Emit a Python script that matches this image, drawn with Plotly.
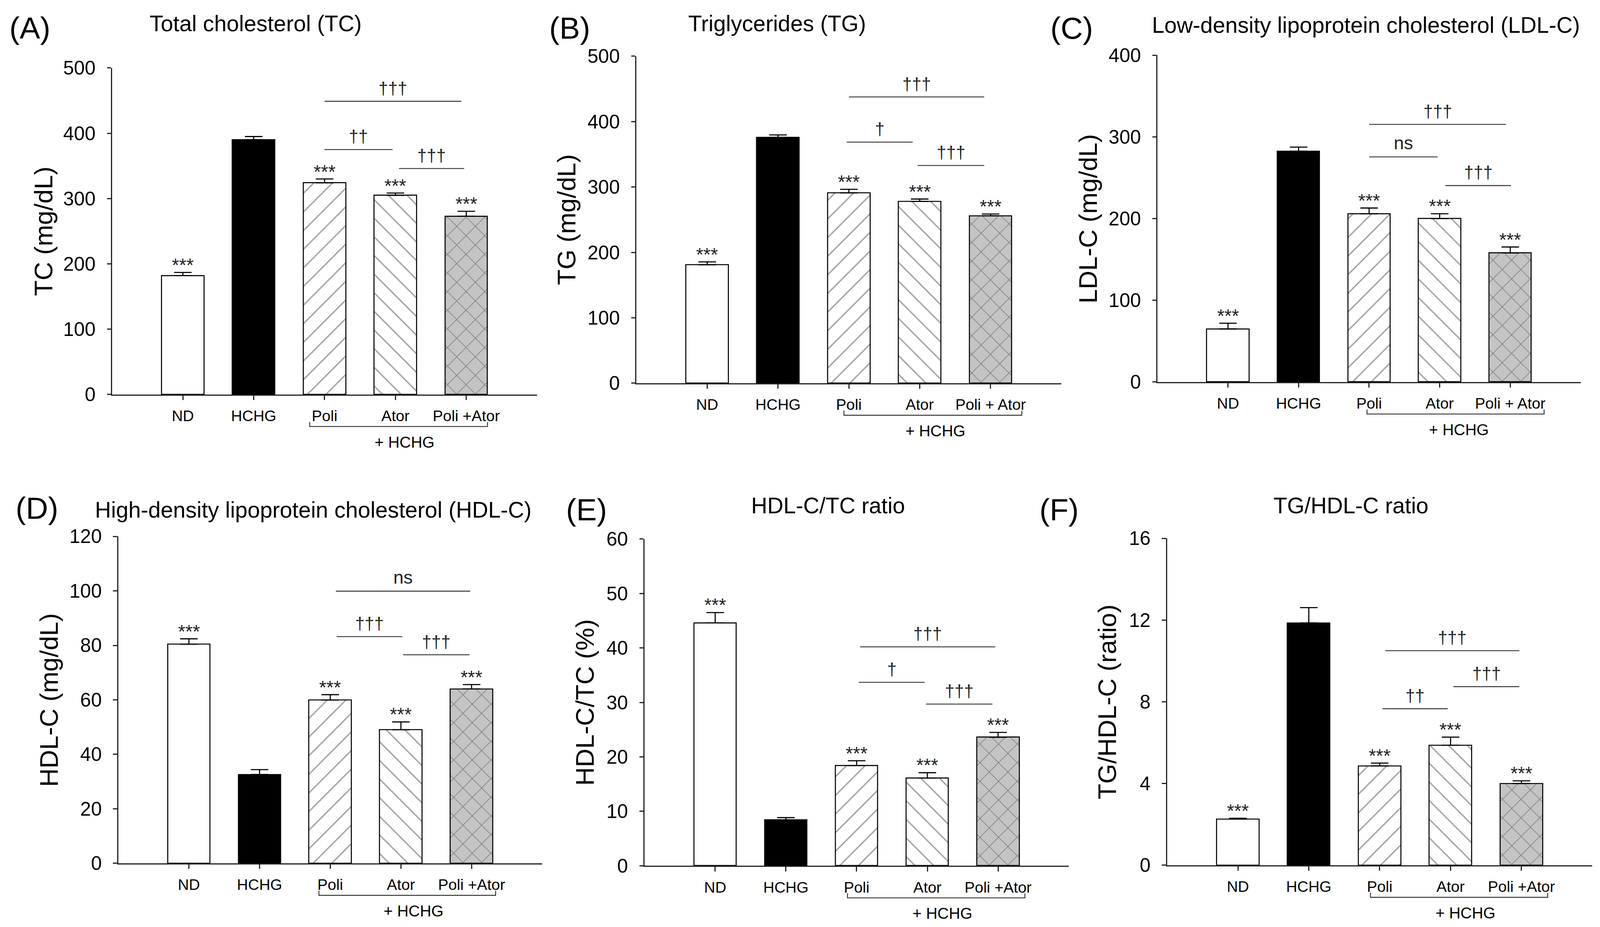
import plotly.graph_objects as go

# ---------------- data ----------------
groups_a = ["ND", "HCHG", "Poli", "Ator", "Poli +Ator"]
groups_b = ["ND", "HCHG", "Poli", "Ator", "Poli + Ator"]

tc_mean = [182, 390, 324, 305, 273]
tc_err = [5, 5, 6, 3.5, 7.5]
tg_mean = [181, 376, 291, 278, 256]
tg_err = [4.5, 3.6, 5.4, 3.6, 2.7]
ldl_mean = [65, 282.5, 206, 200, 158]
ldl_err = [7, 5, 7, 6, 7.3]
hdl_mean = [80.4, 32.6, 59.9, 49, 64]
hdl_err = [2, 1.8, 2, 2.9, 1.6]
hdltc_mean = [44.6, 8.4, 18.4, 16.1, 23.6]
hdltc_err = [1.9, 0.45, 0.9, 1.0, 0.9]
tghdl_mean = [2.26, 11.86, 4.86, 5.87, 4.0]
tghdl_err = [0.04, 0.75, 0.14, 0.4, 0.13]

stars = ["***", "", "***", "***", "***"]

# significance comparisons: (from, to, level, label)
sig_tc = [(2.0, 3.93, 449, "†††"), (2.0, 2.96, 375, "††"), (3.05, 3.97, 346, "†††")]
sig_tg = [(2.0, 3.91, 437.7, "†††"), (1.97, 2.90, 368.6, "†"), (2.97, 3.91, 332.9, "†††")]
sig_ldl = [(2.0, 3.94, 315.4, "†††"), (2.0, 2.97, 275.6, "ns"), (3.08, 4.01, 240.5, "†††")]
sig_hdl = [(2.08, 3.98, 99.9, "ns"), (2.09, 3.02, 83.2, "†††"), (3.03, 3.97, 76.55, "†††")]
sig_hdltc = [(2.05, 3.96, 40.2, "†††"), (2.03, 2.96, 33.7, "†"), (2.98, 3.92, 29.7, "†††")]
sig_tghdl = [(2.08, 3.97, 10.5, "†††"), (2.04, 2.96, 7.66, "††"), (3.04, 3.97, 8.74, "†††")]

panels = [
    dict(letter="(A)", title="Total cholesterol (TC)", ytitle="TC (mg/dL)", labels=groups_a,
         mean=tc_mean, err=tc_err, sig=sig_tc, ymax=500, dtick=100,
         xd=[0.0700, 0.3357], yd=[0.5744, 0.9267], tpos=(0.1597, 0.9747), lpos=(0.0186, 0.9697),
         ytx=0.0273, br=(1.79, 4.30), hc=3.13),
    dict(letter="(B)", title="Triglycerides (TG)", ytitle="TG (mg/dL)", labels=groups_b,
         mean=tg_mean, err=tg_err, sig=sig_tg, ymax=500, dtick=100,
         xd=[0.3977, 0.6634], yd=[0.5866, 0.9394], tpos=(0.4856, 0.9747), lpos=(0.3562, 0.9697),
         ytx=0.3541, br=(1.93, 4.44), hc=3.22),
    dict(letter="(C)", title="Low-density lipoprotein cholesterol (LDL-C)", ytitle="LDL-C (mg/dL)", labels=groups_b,
         mean=ldl_mean, err=ldl_err, sig=sig_ldl, ymax=400, dtick=100,
         xd=[0.7234, 0.9880], yd=[0.5879, 0.9404], tpos=(0.8538, 0.9730), lpos=(0.6698, 0.9697),
         ytx=0.6802, br=(1.97, 4.48), hc=3.27),
    dict(letter="(D)", title="High-density lipoprotein cholesterol (HDL-C)", ytitle="HDL-C (mg/dL)", labels=groups_a,
         mean=hdl_mean, err=hdl_err, sig=sig_hdl, ymax=120, dtick=20,
         xd=[0.0739, 0.3389], yd=[0.0687, 0.4214], tpos=(0.1958, 0.4500), lpos=(0.0230, 0.4517),
         ytx=0.0307, br=(1.84, 4.34), hc=3.18),
    dict(letter="(E)", title="HDL-C/TC ratio", ytitle="HDL-C/TC (%)", labels=groups_a,
         mean=hdltc_mean, err=hdltc_err, sig=sig_hdltc, ymax=60, dtick=10,
         xd=[0.4028, 0.6680], yd=[0.0660, 0.4185], tpos=(0.5176, 0.4547), lpos=(0.3666, 0.4500),
         ytx=0.3655, br=(1.87, 4.38), hc=3.21),
    dict(letter="(F)", title="TG/HDL-C ratio", ytitle="TG/HDL-C (ratio)", labels=groups_a,
         mean=tghdl_mean, err=tghdl_err, sig=sig_tghdl, ymax=16, dtick=4,
         xd=[0.7294, 0.9952], yd=[0.0666, 0.4193], tpos=(0.8444, 0.4547), lpos=(0.6618, 0.4500),
         ytx=0.6921, br=(1.87, 4.37), hc=3.21),
]

# ---------------- styles ----------------
S = 0.937  # css px -> screenshot px compensation
FONT = "Liberation Sans, Arial, Helvetica, sans-serif"
fills = ["white", "black", "white", "white", "#c4c4c4"]
shapes_pat = ["", "", "/", "\\", "x"]
xpos = [0, 1, 2, 3, 4]


def px(v):
    return v * S


fig = go.Figure()
layout_shapes = []
annotations = []

for i, p in enumerate(panels):
    n = "" if i == 0 else str(i + 1)
    xa, ya = "x" + n, "y" + n
    fig.add_trace(go.Bar(
        x=xpos, y=p["mean"], width=0.6, xaxis=xa, yaxis=ya,
        marker=dict(color=fills, line=dict(color="black", width=px(2.8)),
                    pattern=dict(shape=shapes_pat, fgcolor="#111", size=px(36), solidity=0.1,
                                 fillmode="overlay")),
        error_y=dict(type="data", array=p["err"], arrayminus=[0] * 5, symmetric=False,
                     color="black", thickness=px(3), width=px(24)),
        showlegend=False, hoverinfo="skip",
    ))
    fig.layout["xaxis" + n] = dict(
        domain=p["xd"], anchor=ya, range=[-1, 5], tickvals=xpos, ticktext=p["labels"],
        ticks="outside", ticklen=px(12), tickwidth=px(3), tickcolor="#222", automargin=False,
        showline=True, linecolor="#222", linewidth=px(3), showgrid=False, zeroline=False,
        ticklabelstandoff=int(round(px(8))),
        tickfont=dict(family=FONT, size=px(42), color="black"), fixedrange=True,
    )
    fig.layout["yaxis" + n] = dict(
        domain=p["yd"], anchor=xa, range=[0, p["ymax"]], dtick=p["dtick"], tick0=0,
        ticks="outside", ticklen=px(11), tickwidth=px(3), tickcolor="#222", automargin=False,
        showline=True, linecolor="#222", linewidth=px(3), showgrid=False, zeroline=False,
        ticklabelstandoff=int(round(px(20))),
        tickfont=dict(family=FONT, size=px(53), color="black"), fixedrange=True,
    )
    # stars
    for k in range(5):
        if stars[k]:
            annotations.append(dict(x=xpos[k], y=p["mean"][k] + p["err"][k], xref=xa, yref=ya,
                                    text=stars[k], showarrow=False, xanchor="center", yanchor="bottom",
                                    yshift=px(-10), font=dict(family=FONT, size=px(51), color="#222")))
    # significance lines
    for (a, b, lev, lab) in p["sig"]:
        layout_shapes.append(dict(type="line", xref=xa, yref=ya, x0=a, x1=b, y0=lev, y1=lev,
                                  line=dict(color="#333", width=px(2.5))))
        annotations.append(dict(x=(a + b) / 2, y=lev, xref=xa, yref=ya, text=lab, showarrow=False,
                                xanchor="center", yanchor="bottom", yshift=px(8),
                                font=dict(family=FONT, size=px(47 if lab != "ns" else 50), color="#222")))
    # + HCHG bracket
    yd = ya + " domain"
    layout_shapes.append(dict(type="path", xref=xa, yref=yd,
                              path=f"M {p['br'][0]} -0.084 L {p['br'][0]} -0.098 L {p['br'][1]} -0.098 L {p['br'][1]} -0.084",
                              line=dict(color="#333", width=px(2.5))))
    annotations.append(dict(x=p["hc"], y=-0.146, xref=xa, yref=yd, text="+ HCHG", showarrow=False,
                            xanchor="center", yanchor="middle",
                            font=dict(family=FONT, size=px(43), color="black")))
    # titles
    annotations.append(dict(x=p["tpos"][0], y=p["tpos"][1], xref="paper", yref="paper", text=p["title"],
                            showarrow=False, xanchor="center", yanchor="middle",
                            font=dict(family=FONT, size=px(61), color="black")))
    annotations.append(dict(x=p["lpos"][0], y=p["lpos"][1], xref="paper", yref="paper", text=p["letter"],
                            showarrow=False, xanchor="center", yanchor="middle",
                            font=dict(family=FONT, size=px(84), color="black")))
    annotations.append(dict(x=p["ytx"], y=(p["yd"][0] + p["yd"][1]) / 2, xref="paper", yref="paper",
                            text=p["ytitle"], textangle=-90, showarrow=False,
                            xanchor="center", yanchor="middle",
                            font=dict(family=FONT, size=px(70), color="black")))

fig.update_layout(
    template="none", autosize=True,
    margin=dict(l=0, r=0, t=0, b=0, pad=0),
    paper_bgcolor="white", plot_bgcolor="white",
    shapes=layout_shapes, annotations=annotations, bargap=0,
)

post = (
    "document.documentElement.style.margin='0';"
    "document.body.style.margin='0';"
    "document.body.style.overflow='hidden';"
    "var gd=document.getElementById('{plot_id}');"
    "gd.style.width='100vw';gd.style.height='100vh';"
    "Plotly.Plots.resize(gd);"
)
fig.write_html("out.html", default_width="100vw", default_height="100vh",
               config={"responsive": True, "displayModeBar": False}, post_script=post)
